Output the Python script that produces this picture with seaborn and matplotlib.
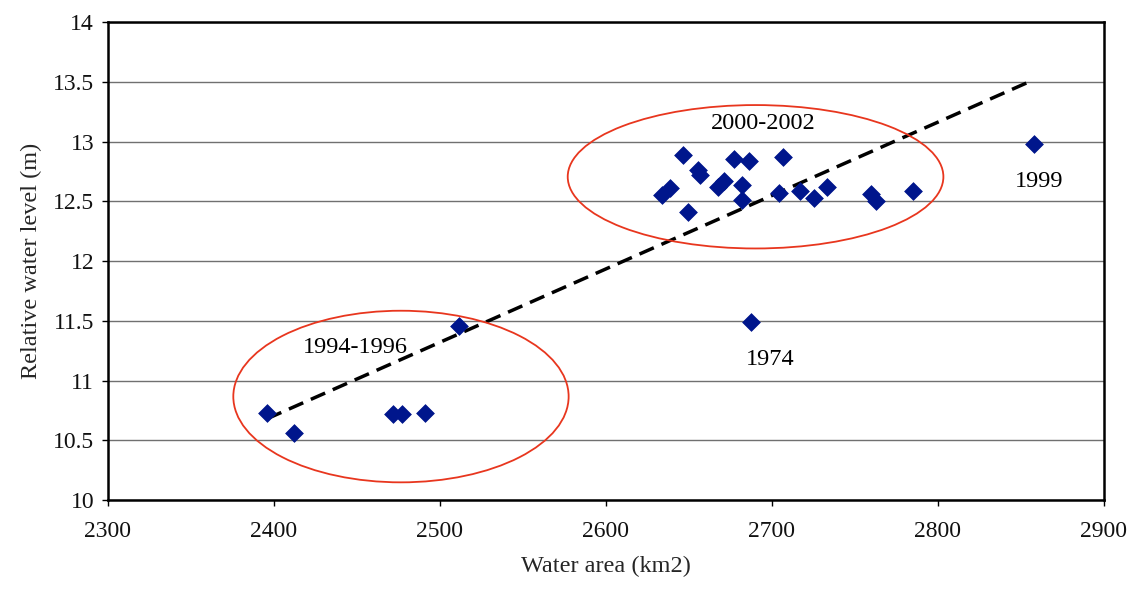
import matplotlib
matplotlib.use("Agg")
import matplotlib.pyplot as plt
from matplotlib.patches import Ellipse
import seaborn as sns
import pandas as pd

# ---- data ----
water_area = [2395.8, 2412.2, 2471.5, 2477.0, 2491.0, 2511.3,
              2633.5, 2638.5, 2646.2, 2649.2, 2655.2, 2656.5, 2667.3, 2670.9,
              2677.3, 2681.9, 2681.9, 2686.3, 2704.4, 2706.8, 2716.9, 2725.1,
              2732.9, 2759.6, 2762.7, 2784.7,
              2687.4, 2858.0]
water_level = [10.73, 10.56, 10.72, 10.72, 10.73, 11.46,
               12.55, 12.61, 12.89, 12.41, 12.76, 12.72, 12.62, 12.67,
               12.85, 12.64, 12.51, 12.84, 12.57, 12.87, 12.59, 12.53,
               12.62, 12.56, 12.50, 12.59,
               11.49, 12.98]

trend_x = [2395.8, 2856.6]
trend_y = [10.68, 13.51]

# ellipses: centre x, centre y, width, height
ellipse_cx = [2476.5, 2690.1]
ellipse_cy = [10.866, 12.705]
ellipse_w = [202.0, 226.3]
ellipse_h = [1.436, 1.20]

label_texts = ["1994-1996", "2000-2002", "1974", "1999"]
label_x = [2449.2, 2694.9, 2698.8, 2861.0]
label_y = [11.28, 13.15, 11.18, 12.664]

x_ticks = [2300, 2400, 2500, 2600, 2700, 2800, 2900]
y_ticks = [10, 10.5, 11, 11.5, 12, 12.5, 13, 13.5, 14]
y_tick_labels = ["10", "10.5", "11", "11.5", "12", "12.5", "13", "13.5", "14"]

# ---- plotting ----
sns.set_theme(style="white")
plt.rcParams["font.family"] = ["Liberation Serif", "DejaVu Serif"]

fig = plt.figure(figsize=(11.33, 5.90), dpi=100)
ax = fig.add_axes([0.0953, 0.1525, 0.8791, 0.8102])

df = pd.DataFrame({"area": water_area, "level": water_level})

ax.set_axisbelow(True)
ax.yaxis.grid(True, color="#707070", linewidth=1.0)
ax.xaxis.grid(False)

ax.plot(trend_x, trend_y, color="black", linewidth=2.5,
        linestyle=(0, (4.5, 2.4)), zorder=2)

sns.scatterplot(data=df, x="area", y="level", ax=ax, marker="D", s=82,
                color="#00168C", edgecolor="#00168C", linewidth=0.5, zorder=3)

for cx, cy, w, h in zip(ellipse_cx, ellipse_cy, ellipse_w, ellipse_h):
    ax.add_patch(Ellipse((cx, cy), w, h, fill=False, edgecolor="#E8361E",
                         linewidth=1.3, zorder=4))

for t, tx, ty in zip(label_texts, label_x, label_y):
    ax.text(tx, ty, t, ha="center", va="center", fontsize=17.5, color="black",
            zorder=5)

ax.set_xlim(2300, 2900)
ax.set_ylim(10, 14)
ax.set_xticks(x_ticks)
ax.set_yticks(y_ticks)
ax.set_yticklabels(y_tick_labels)
ax.tick_params(axis="both", labelsize=17, length=4, width=1,
               color="black", direction="out", bottom=True, left=True,
               pad=6, labelcolor="#111111")
ax.tick_params(axis="x", pad=11)

ax.set_xlabel("Water area (km2)", fontsize=17.5, labelpad=10)
ax.set_ylabel("Relative water level (m)", fontsize=17.5, labelpad=8)

for side in ["left", "bottom", "top", "right"]:
    ax.spines[side].set_visible(True)
    ax.spines[side].set_color("black")
    ax.spines[side].set_linewidth(1.8)

fig.savefig("out.png", dpi=100, facecolor="white")
